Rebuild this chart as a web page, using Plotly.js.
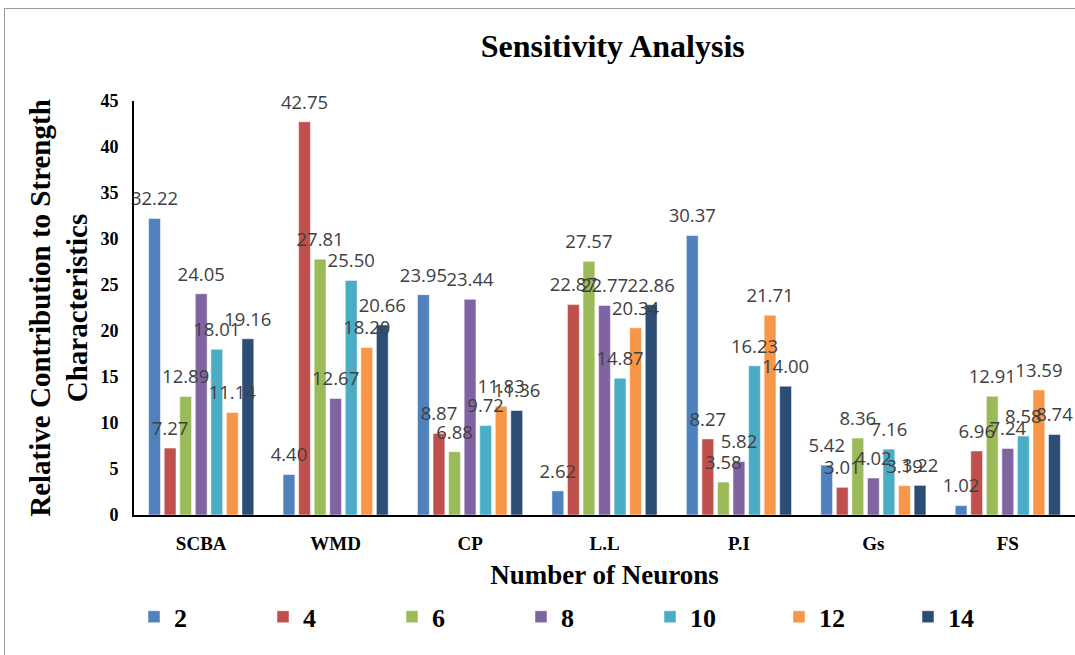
<!DOCTYPE html>
<html><head><meta charset="utf-8">
<script src="https://cdn.plot.ly/plotly-3.0.1.min.js"></script>
<style>
html,body{margin:0;padding:0;background:#fff;}
#wrap{position:relative;width:1075px;height:655px;overflow:hidden;}
#frame{position:absolute;left:4px;top:8px;width:1080px;height:660px;border:1px solid #9a9a9a;box-sizing:border-box;pointer-events:none;z-index:5;}
#chart{position:absolute;left:0;top:0;width:1075px;height:655px;}
</style></head>
<body><div id="wrap"><div id="chart"></div><div id="frame"></div></div>
<script>
const categories = ["SCBA","WMD","CP","L.L","P.I","Gs","FS"];
const seriesNames = ["2","4","6","8","10","12","14"];
const n2  = [32.22, 4.40, 23.95, 2.62, 30.37, 5.42, 1.02];
const n4  = [7.27, 42.75, 8.87, 22.87, 8.27, 3.01, 6.96];
const n6  = [12.89, 27.81, 6.88, 27.57, 3.58, 8.36, 12.91];
const n8  = [24.05, 12.67, 23.44, 22.77, 5.82, 4.02, 7.24];
const n10 = [18.01, 25.50, 9.72, 14.87, 16.23, 7.16, 8.58];
const n12 = [11.14, 18.20, 11.83, 20.34, 21.71, 3.19, 13.59];
const n14 = [19.16, 20.66, 11.36, 22.86, 14.00, 3.22, 8.74];
const yTicks = [0,5,10,15,20,25,30,35,40,45];

const series = [n2,n4,n6,n8,n10,n12,n14];
const colors = ["#4F81BD","#C0504D","#9BBB59","#8064A2","#4BACC6","#F79646","#2C4D75"];
const serif = "Liberation Serif, Times New Roman, serif";
const GAP = 0.19;

const bars = series.map((vals,i)=>({
  type:"bar", name:seriesNames[i], x:categories, y:vals,
  offsetgroup:"g"+i,
  marker:{color:colors[i], line:{color:"#ffffff", width:0.5}},
  hoverinfo:"x+y+name"
}));
const labels = series.map((vals,i)=>({
  type:"scatter", mode:"markers+text", name:seriesNames[i]+" labels", x:categories, y:vals,
  offsetgroup:"g"+i, showlegend:false, cliponaxis:false,
  marker:{size:12, color:"rgba(0,0,0,0)"},
  text:vals.map(v=>v.toFixed(2)), textposition:"top center",
  textfont:{family:"Open Sans, sans-serif", size:18.5, color:"#404040"},
  hoverinfo:"skip"
}));

const layout = {
  width:1075, height:655,
  margin:{l:134, r:0, t:101, b:140},
  paper_bgcolor:"#ffffff", plot_bgcolor:"#ffffff",
  barmode:"group", bargap:GAP, bargroupgap:0.24,
  scattermode:"group", scattergap:GAP,
  title:{text:"<b>Sensitivity Analysis</b>", x:0.57, xanchor:"center", y:0.93, yanchor:"middle",
         font:{family:serif, size:32, color:"#000"}},
  xaxis:{
    showline:true, linecolor:"#000", linewidth:2, ticks:"", showgrid:false,
    ticklabelstandoff:10,
    tickfont:{family:serif, size:19, color:"#000", weight:"bold"},
    title:{text:"<b>Number of Neurons</b>", font:{family:serif, size:27, color:"#000"}, standoff:12}
  },
  yaxis:{
    range:[0,45], tickvals:yTicks, showline:true, linecolor:"#000", linewidth:2,
    ticks:"", showgrid:false, zeroline:false, ticklabelstandoff:10,
    tickfont:{family:serif, size:18, color:"#000", weight:"bold"},
    title:{text:"<b>Relative Contribution to Strength<br>Characteristics</b>", font:{family:serif, size:29, color:"#000"}, standoff:4}
  },
  legend:{orientation:"h", x:0.0, xanchor:"left", y:-0.246, yanchor:"middle",
    font:{family:serif, size:26, color:"#000", weight:"bold"},
    entrywidth:84, itemwidth:30, traceorder:"normal"},
  showlegend:true
};
Plotly.newPlot("chart", bars.concat(labels), layout, {displayModeBar:false, staticPlot:true});
</script></body></html>
